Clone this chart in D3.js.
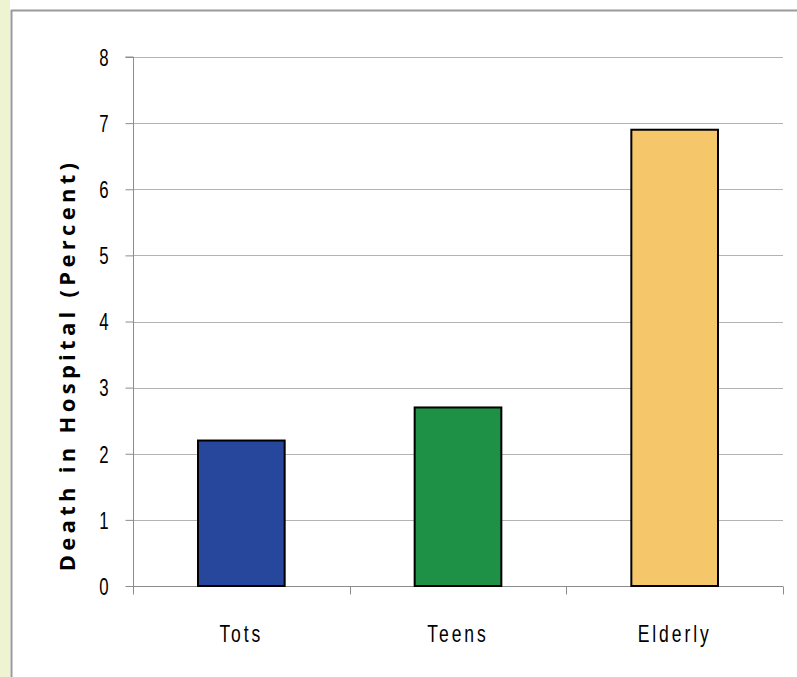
<!DOCTYPE html>
<html>
<head>
<meta charset="utf-8">
<script src="https://cdn.jsdelivr.net/npm/d3@7"></script>
<style>
  html, body { margin: 0; padding: 0; background: #fff; }
  svg { display: block; }
  .lbl { font-family: "Liberation Sans", "DejaVu Sans", sans-serif; fill: #000; }
</style>
</head>
<body>
<div id="chart"></div>
<script>
// Hospital mortality by age group
const categories = ["Tots", "Teens", "Elderly"];
const values = [2.2, 2.7, 6.9];
const barColors = ["#26479b", "#1f9146", "#f6c76a"];
const yTicks = [0, 1, 2, 3, 4, 5, 6, 7, 8];
const yTitle = "Death in Hospital (Percent)";

const W = 797, H = 677;
const margin = { left: 133, right: 14, top: 57, bottom: 91 };
const narrow = 0.73; // horizontal squeeze for the condensed label face

const svg = d3.select("#chart").append("svg")
  .attr("width", W).attr("height", H);

// outer frame: pale strip and grey edge lines
svg.append("rect").attr("x", 0).attr("y", 0).attr("width", 10).attr("height", H)
  .attr("fill", "#eef3d2");
svg.append("line").attr("x1", 11.5).attr("x2", 11.5).attr("y1", 10).attr("y2", H)
  .attr("stroke", "#9a9a9a").attr("stroke-width", 2);
svg.append("line").attr("x1", 11).attr("x2", W).attr("y1", 10.5).attr("y2", 10.5)
  .attr("stroke", "#9a9a9a").attr("stroke-width", 2);

const x = d3.scaleBand().domain(categories)
  .range([margin.left, W - margin.right]).paddingInner(0.6).paddingOuter(0.3);
const y = d3.scaleLinear().domain([0, 8]).range([H - margin.bottom, margin.top]);

// gridlines
svg.append("g").selectAll("line").data(yTicks.filter(d => d > 0)).join("line")
  .attr("x1", margin.left).attr("x2", W - margin.right)
  .attr("y1", d => Math.round(y(d)) + 0.5).attr("y2", d => Math.round(y(d)) + 0.5)
  .attr("stroke", "#b3b3b3").attr("stroke-width", 1);

// y axis
const yAxis = svg.append("g").attr("transform", `translate(${margin.left + 0.5},0)`)
  .call(d3.axisLeft(y).tickValues(yTicks).tickSize(8).tickFormat(d3.format("d")));
yAxis.select(".domain").attr("stroke", "#8c8c8c").attr("d", `M-8,${y(8)}H0V${y(0)}`);
yAxis.selectAll(".tick line").attr("stroke", "#8c8c8c");
yAxis.selectAll(".tick text").remove();
yAxis.selectAll(".tick").append("text")
  .attr("class", "lbl")
  .attr("transform", `translate(-25,0) scale(${narrow},1)`)
  .attr("dy", "0.36em")
  .attr("text-anchor", "end")
  .attr("font-size", 23)
  .text(d => d);

// x axis with ticks at band boundaries
const xAxisG = svg.append("g");
const x0 = margin.left, x1 = W - margin.right, yb = Math.round(y(0)) + 0.5;
xAxisG.append("line").attr("x1", x0).attr("x2", x1).attr("y1", yb).attr("y2", yb)
  .attr("stroke", "#8c8c8c");
const step = (x1 - x0) / categories.length;
xAxisG.selectAll(".bt").data(d3.range(categories.length + 1)).join("line")
  .attr("x1", i => Math.round(x0 + i * step) + 0.5).attr("x2", i => Math.round(x0 + i * step) + 0.5)
  .attr("y1", yb).attr("y2", yb + 8).attr("stroke", "#8c8c8c");
xAxisG.selectAll("text").data(categories).join("text")
  .attr("class", "lbl")
  .attr("transform", d => `translate(${x(d) + x.bandwidth() / 2},642) scale(${narrow},1)`)
  .attr("text-anchor", "middle")
  .attr("font-size", 24)
  .attr("letter-spacing", "4px")
  .text(d => d);

// bars
svg.append("g").selectAll("rect").data(values).join("rect")
  .attr("x", (d, i) => x(categories[i]))
  .attr("y", d => y(d))
  .attr("width", x.bandwidth())
  .attr("height", d => y(0) - y(d))
  .attr("fill", (d, i) => barColors[i])
  .attr("stroke", "#000").attr("stroke-width", 2);

// y axis title
svg.append("text")
  .attr("transform", `translate(75,365) rotate(-90)`)
  .attr("text-anchor", "middle")
  .attr("font-family", "'Open Sans', 'DejaVu Sans', sans-serif")
  .attr("font-weight", "bold")
  .attr("font-size", 22)
  .attr("letter-spacing", "4.3px")
  .text(yTitle);
</script>
</body>
</html>
